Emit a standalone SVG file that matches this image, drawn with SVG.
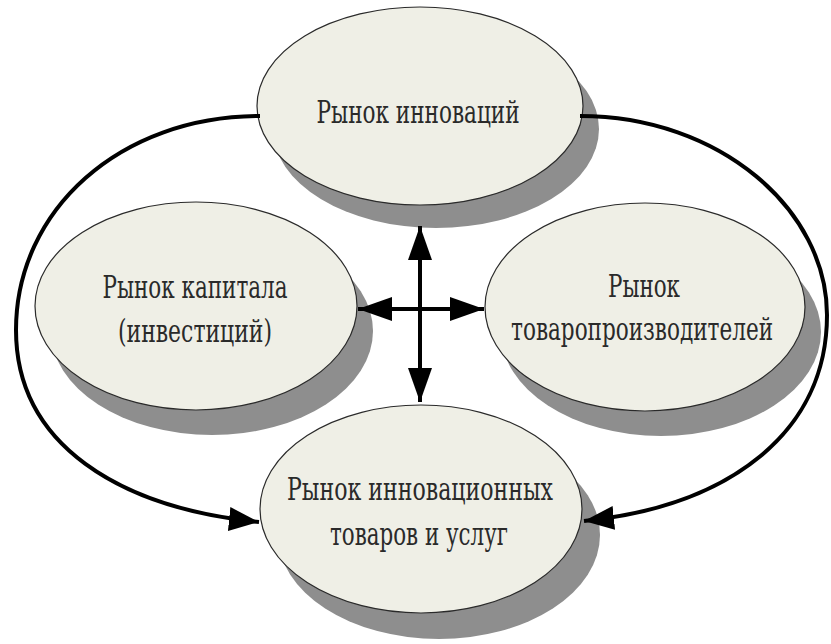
<svg xmlns="http://www.w3.org/2000/svg" width="831" height="644" viewBox="0 0 831 644">
<style>
.sh{fill:#8e8e8e;}
.el{fill:#efefe6;stroke:#2a2a2a;stroke-width:1.2;}
.t{font-family:'DejaVu Serif',serif;font-stretch:condensed;font-size:32px;fill:#2a2a2a;text-anchor:middle;}
.ln{fill:none;stroke:#000;stroke-width:4;}
</style>
<defs>
<marker id="ah" markerUnits="userSpaceOnUse" markerWidth="40" markerHeight="26" refX="34" refY="12" orient="auto-start-reverse">
<path d="M0,0 L34,12 L0,24 z" fill="#000"/>
</marker>
<marker id="ahs" markerUnits="userSpaceOnUse" markerWidth="36" markerHeight="26" refX="30" refY="12" orient="auto">
<path d="M0,0 L30,12 L0,24 z" fill="#000"/>
</marker>
</defs>
<rect width="831" height="644" fill="#fff"/>
<g id="node-innovations">
<ellipse class="sh" cx="436" cy="129" rx="163" ry="99"/>
<ellipse class="el" cx="420" cy="106" rx="163" ry="99"/>
<text class="t" x="418" y="123" textLength="203" lengthAdjust="spacingAndGlyphs">Рынок инноваций</text>
</g>
<g id="node-capital">
<ellipse class="sh" cx="212" cy="331" rx="161" ry="104"/>
<ellipse class="el" cx="196" cy="306" rx="161" ry="104"/>
<text class="t" x="195" y="298" textLength="185" lengthAdjust="spacingAndGlyphs">Рынок капитала</text>
<text class="t" x="195" y="342" textLength="154" lengthAdjust="spacingAndGlyphs">(инвестиций)</text>
</g>
<g id="node-producers">
<ellipse class="sh" cx="661" cy="332" rx="160" ry="104"/>
<ellipse class="el" cx="645" cy="307" rx="160" ry="104"/>
<text class="t" x="644" y="297" textLength="72" lengthAdjust="spacingAndGlyphs">Рынок</text>
<text class="t" x="642" y="340" textLength="262" lengthAdjust="spacingAndGlyphs">товаропроизводителей</text>
</g>
<g id="node-goods">
<ellipse class="sh" cx="439" cy="535" rx="161" ry="104"/>
<ellipse class="el" cx="421" cy="509" rx="161" ry="104"/>
<text class="t" x="420" y="500" textLength="266" lengthAdjust="spacingAndGlyphs">Рынок инновационных</text>
<text class="t" x="419" y="545" textLength="178" lengthAdjust="spacingAndGlyphs">товаров и услуг</text>
</g>
<g id="connectors">
<path class="ln" d="M420,226 L420,402" marker-start="url(#ah)" marker-end="url(#ah)"/>
<path class="ln" d="M358,309 L484,309" marker-start="url(#ah)" marker-end="url(#ah)"/>
<path class="ln" d="M260,116 C120,116 16,210 16,330 C16,445 120,508 259,522" marker-end="url(#ahs)"/>
<path class="ln" d="M580,116 C720,116 827,210 827,315 C827,432 730,506 584,521" marker-end="url(#ahs)"/>
</g>
</svg>
